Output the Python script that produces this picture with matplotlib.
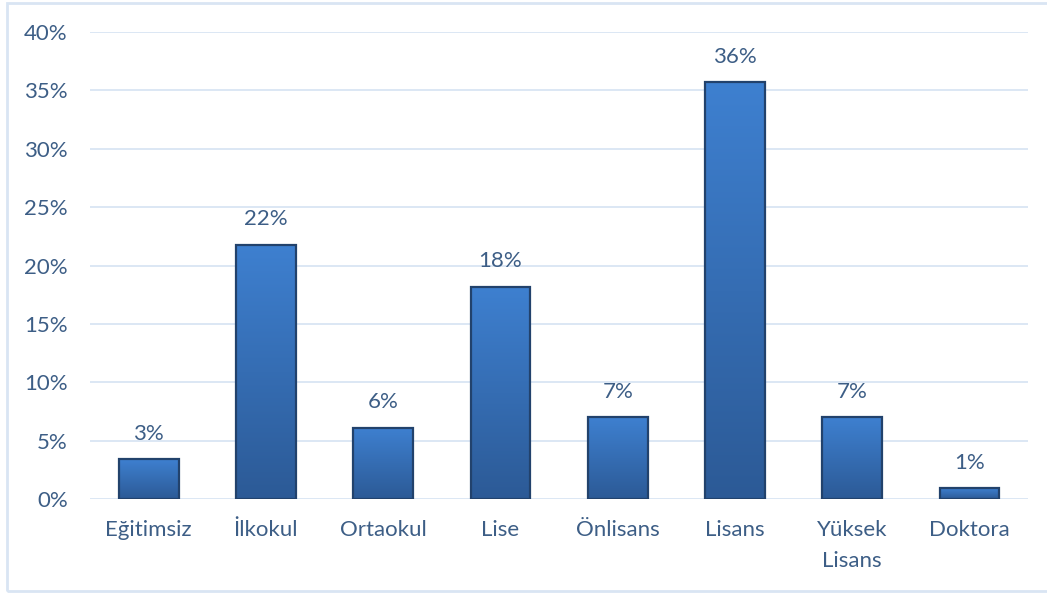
import numpy as np
import matplotlib.pyplot as plt
from matplotlib.colors import LinearSegmentedColormap
from matplotlib.patches import Rectangle

kategoriler = ['Eğitimsiz', 'İlkokul', 'Ortaokul', 'Lise', 'Önlisans', 'Lisans', 'Yüksek\nLisans', 'Doktora']
oranlar = [3.4, 21.8, 6.1, 18.2, 7.0, 35.7, 7.0, 0.9]
yticks = [0, 5, 10, 15, 20, 25, 30, 35, 40]

text_color = '#3d5e86'
grid_color = '#d9e5f3'
plt.rcParams['font.family'] = ['Lato', 'DejaVu Sans']

fig = plt.figure(figsize=(10.47, 5.94), dpi=100)
ax = fig.add_axes([0.086, 0.160, 0.896, 0.786])

# light frame around the chart area
fig.patches.append(Rectangle((7 / 1047, 3 / 594), 1.1, 1 - 6 / 594, transform=fig.transFigure,
                             fill=False, edgecolor=grid_color, linewidth=2))

cmap = LinearSegmentedColormap.from_list('mavi', ['#2c5a96', '#3e80d0'])
grad = np.linspace(0, 1, 256).reshape(-1, 1)
w = 0.51
x = np.arange(len(kategoriler))

for xi, v in zip(x, oranlar):
    ax.imshow(grad, extent=[xi - w / 2, xi + w / 2, 0, v], origin='lower',
              cmap=cmap, aspect='auto', zorder=2)
    ax.add_patch(Rectangle((xi - w / 2, 0), w, v, fill=False,
                           edgecolor='#22426c', linewidth=1.6, zorder=3))
    ax.annotate(f'{v:.0f}%', (xi, v), xytext=(0, 11), textcoords='offset points',
                ha='center', va='bottom', fontsize=16, color=text_color)

ax.set_xlim(-0.5, len(kategoriler) - 0.5)
ax.set_ylim(0, 40)
ax.set_yticks(yticks)
ax.set_yticklabels([f'{t}%' for t in yticks])
ax.set_xticks(x)
ax.set_xticklabels(kategoriler, linespacing=1.7)
ax.tick_params(length=0, labelsize=16, labelcolor=text_color)
ax.tick_params(axis='y', pad=16)
ax.tick_params(axis='x', pad=15)
for s in ax.spines.values():
    s.set_visible(False)
ax.yaxis.grid(True, color=grid_color, linewidth=1.3, zorder=0)
ax.set_axisbelow(True)

fig.savefig('out.png', dpi=100)
